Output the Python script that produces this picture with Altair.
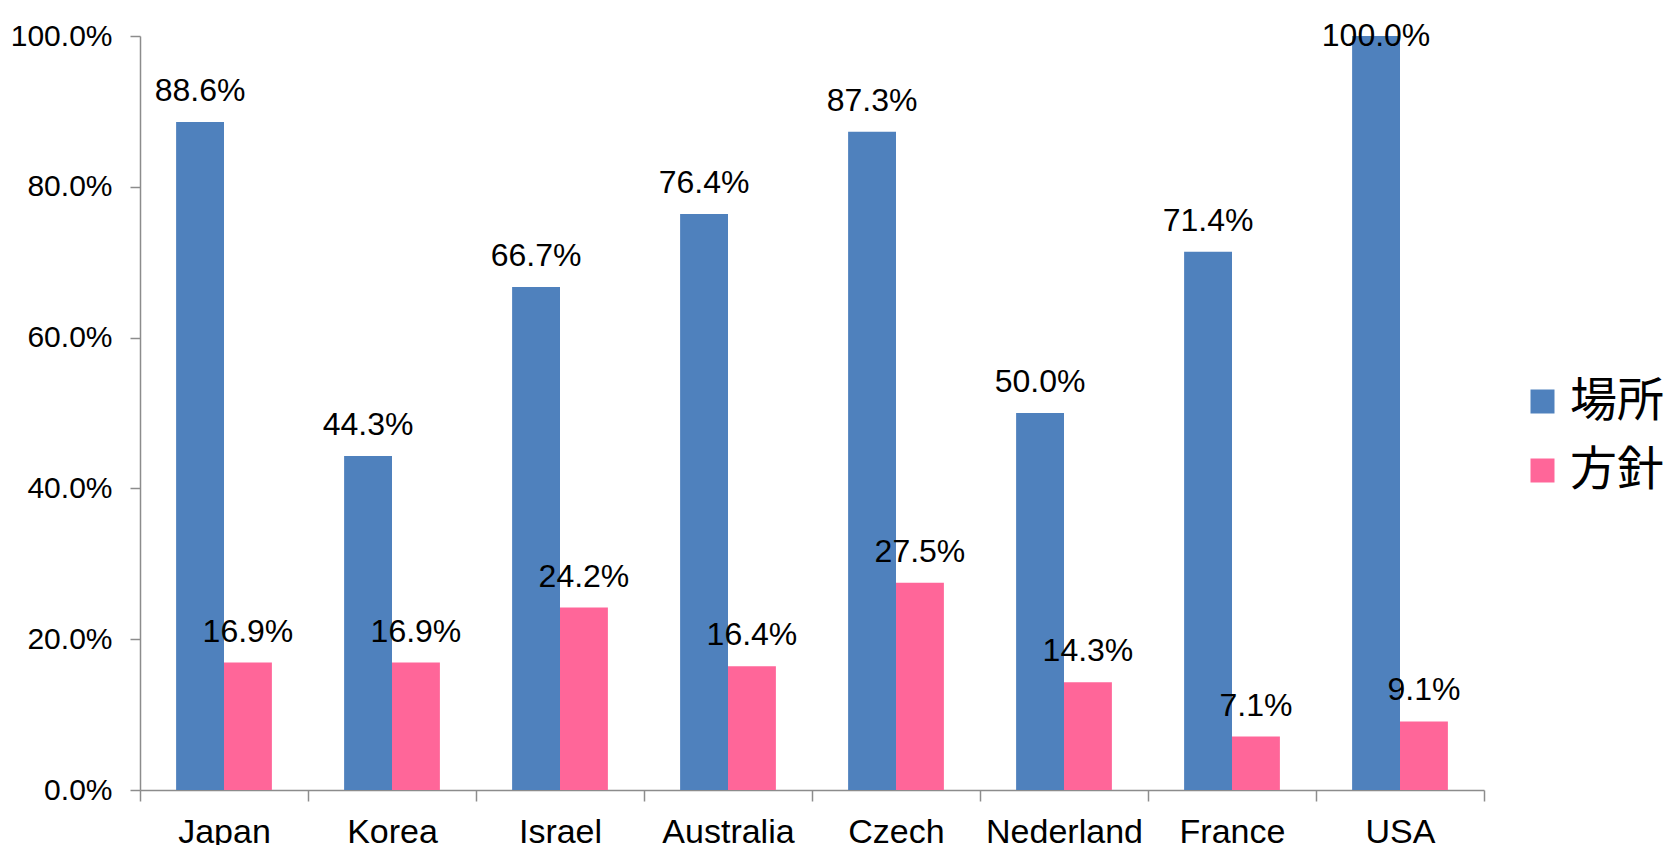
import altair as alt
import pandas as pd

countries = ["Japan", "Korea", "Israel", "Australia", "Czech", "Nederland", "France", "USA"]
series_names = ["場所", "方針"]
basho = [0.886, 0.443, 0.667, 0.764, 0.873, 0.500, 0.714, 1.000]
hoshin = [0.169, 0.169, 0.242, 0.164, 0.275, 0.143, 0.071, 0.091]
colors = ["#4F81BD", "#FF6699"]

rows = []
for c, a, b in zip(countries, basho, hoshin):
    rows.append({"country": c, "series": series_names[0], "value": a})
    rows.append({"country": c, "series": series_names[1], "value": b})
df = pd.DataFrame(rows)

W, H = 1344, 754
NUM_FONT = "Liberation Sans, Arial, sans-serif"

x = alt.X(
    "country:N",
    sort=countries,
    title=None,
    scale=alt.Scale(paddingInner=0, paddingOuter=0),
    axis=alt.Axis(
        labelAngle=0,
        labelFont=NUM_FONT,
        labelFontSize=34,
        labelColor="#000000",
        labelPadding=14,
        labelBaseline="top",
        tickBand="extent",
        tickSize=11,
        tickColor="#8c8c8c",
        tickWidth=1.5,
        domainColor="#8c8c8c",
        domainWidth=1.5,
        grid=False,
    ),
)
xo = alt.XOffset("series:N", sort=series_names, scale=alt.Scale(paddingInner=0, paddingOuter=0.754))

bars = alt.Chart(df).mark_bar().encode(
    x=x,
    xOffset=xo,
    y=alt.Y(
        "value:Q",
        title=None,
        scale=alt.Scale(domain=[0, 1], nice=False, clamp=True),
        axis=alt.Axis(
            format=".1%",
            values=[0, 0.2, 0.4, 0.6, 0.8, 1.0],
            labelFont=NUM_FONT,
            labelFontSize=30,
            labelColor="#000000",
            labelPadding=18,
            tickSize=10,
            tickColor="#8c8c8c",
            tickWidth=1.5,
            domainColor="#8c8c8c",
            domainWidth=1.5,
            grid=False,
        ),
    ),
    color=alt.Color(
        "series:N",
        sort=series_names,
        scale=alt.Scale(domain=series_names, range=colors),
        legend=alt.Legend(
            title=None,
            orient="none",
            legendX=1379,
            legendY=342,
            symbolType="square",
            symbolSize=576,
            symbolStrokeWidth=0,
            labelFont="Noto Sans CJK JP",
            labelFontSize=47,
            labelColor="#000000",
            labelOffset=4,
            rowPadding=21,
            padding=0,
        ),
    ),
)

labels = alt.Chart(df).transform_calculate(
    ly="min(datum.value + 0.041, 1.0)"
).mark_text(
    baseline="middle", align="center", font=NUM_FONT, fontSize=32, color="#000000"
).encode(
    x=x,
    xOffset=xo,
    y=alt.Y("ly:Q", scale=alt.Scale(domain=[0, 1], nice=False)),
    text=alt.Text("value:Q", format=".1%"),
)

chart = alt.layer(bars, labels).properties(
    width=W,
    height=H,
    background="#ffffff",
    autosize=alt.AutoSizeParams(type="none"),
    padding={"left": 140, "top": 36, "right": 190, "bottom": 55},
).configure_view(strokeWidth=0)

chart.save("out.html", embed_options={"renderer": "svg", "actions": False})
